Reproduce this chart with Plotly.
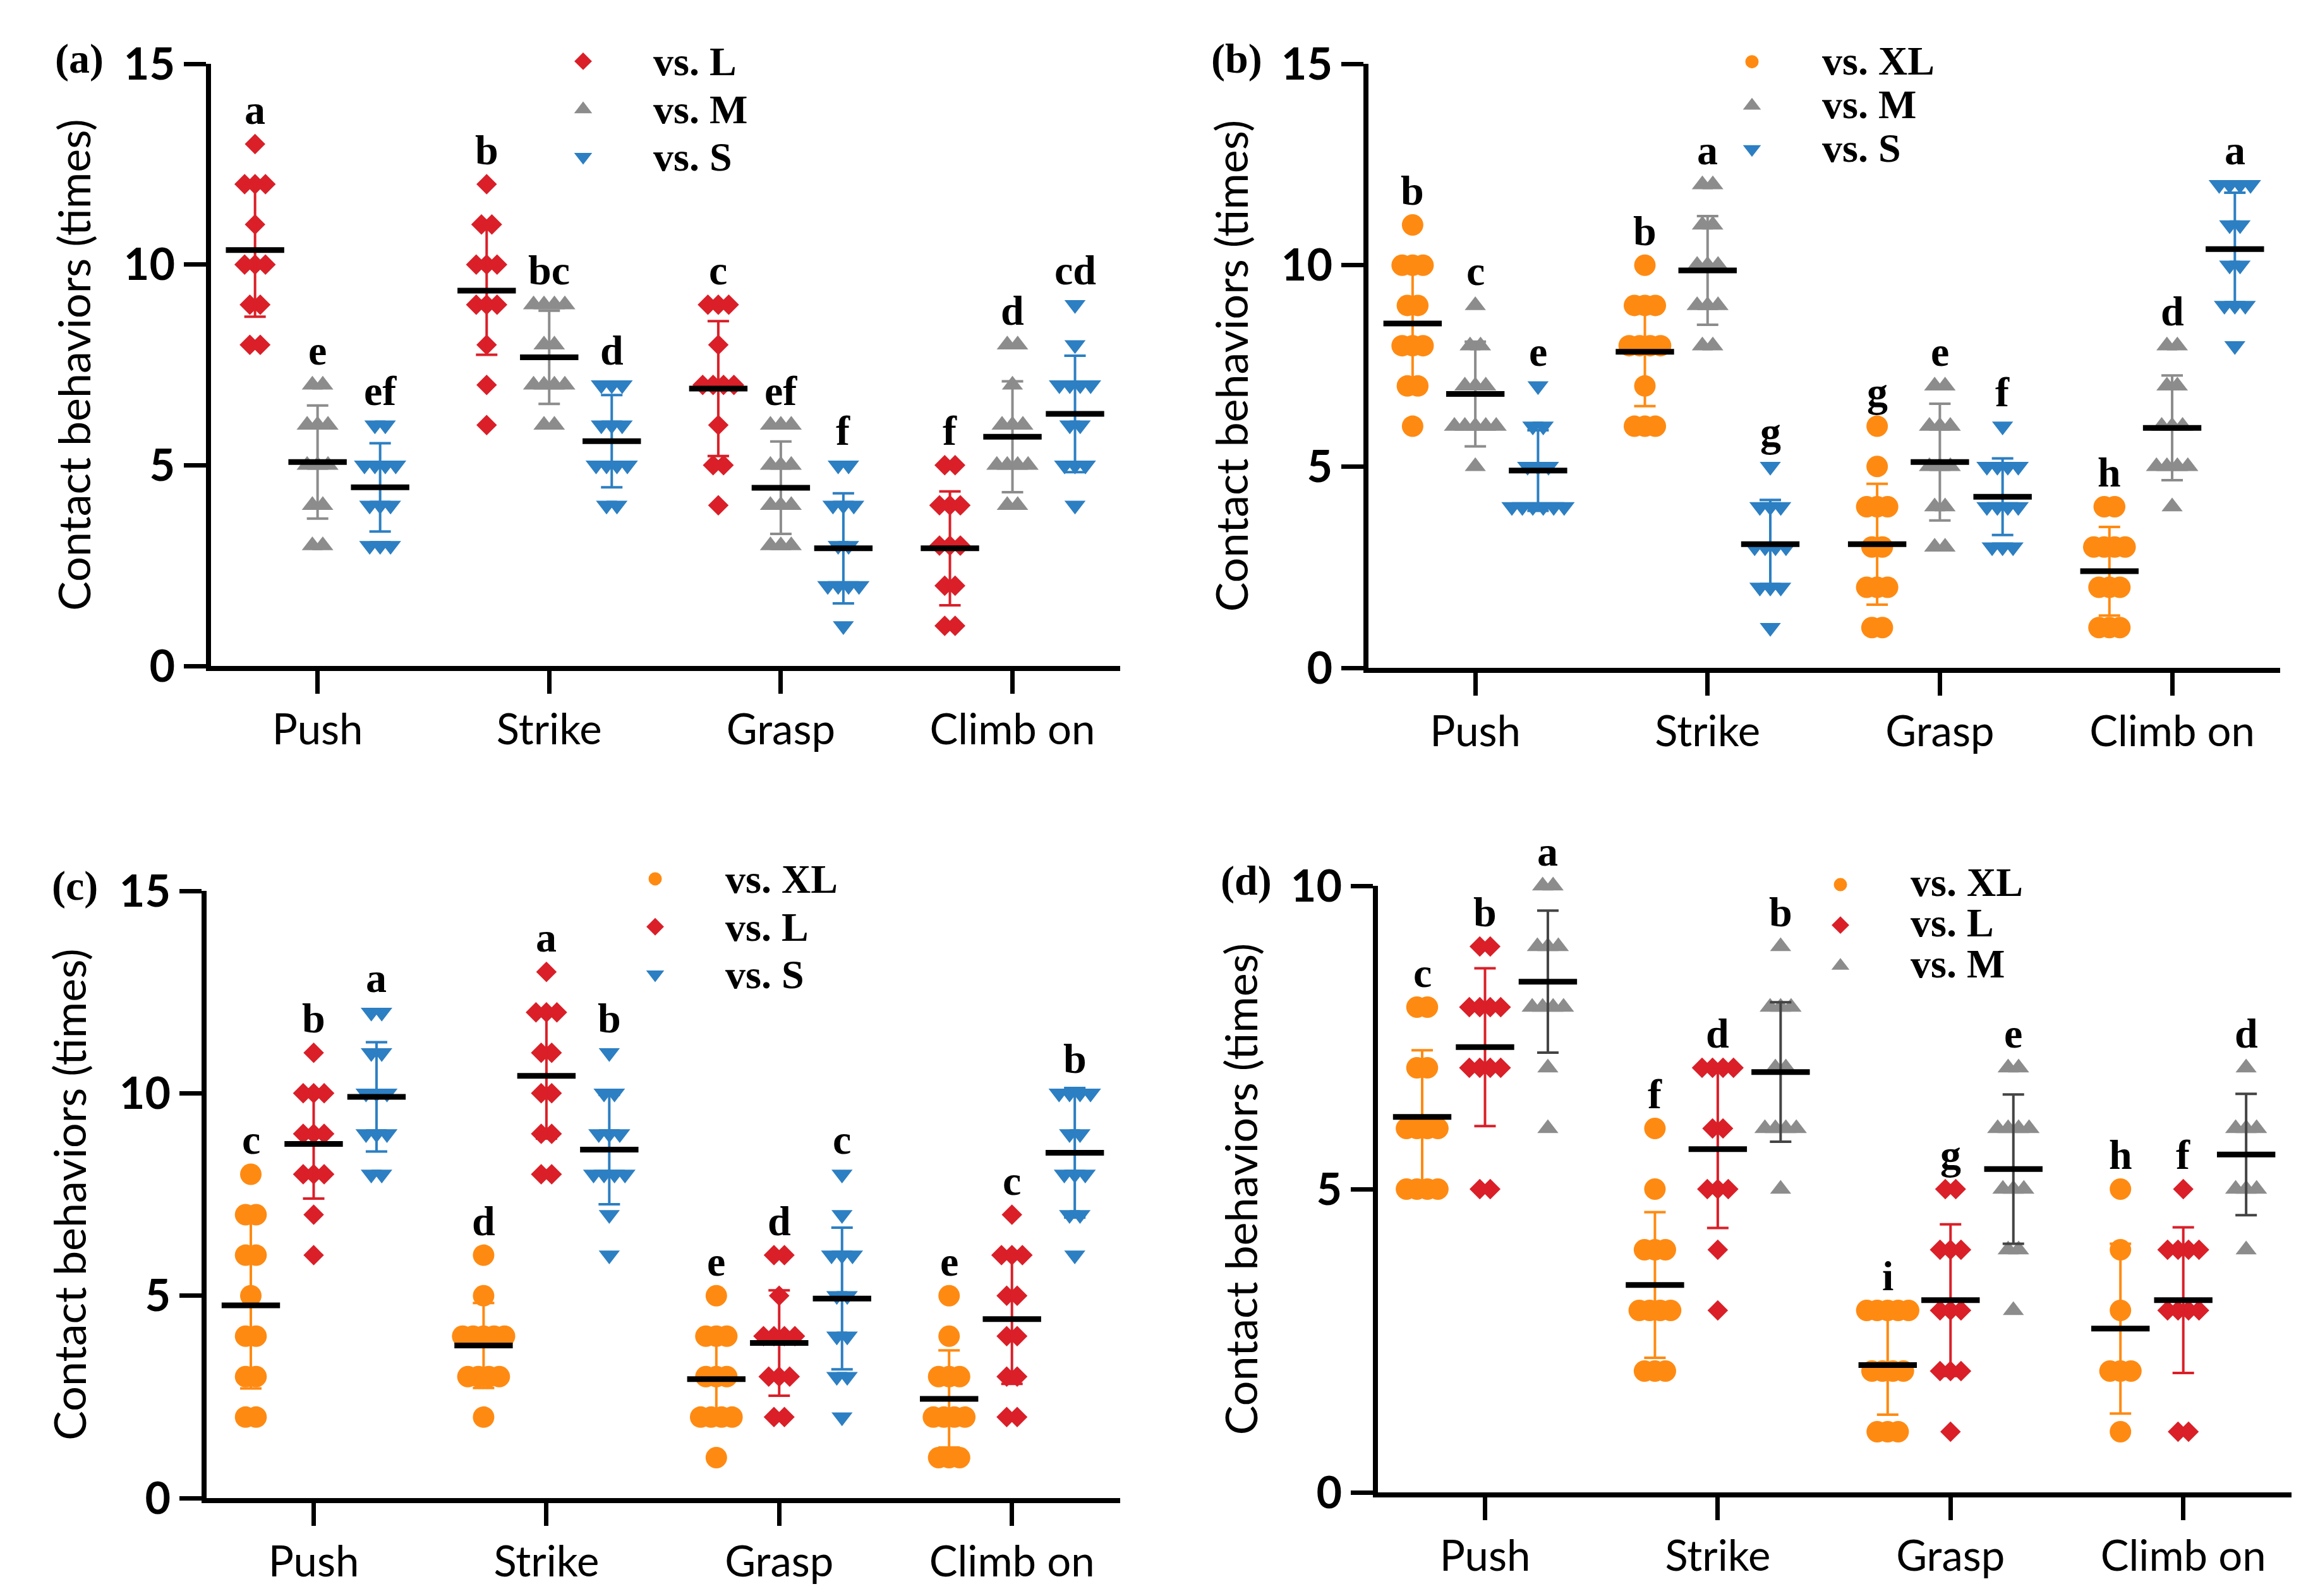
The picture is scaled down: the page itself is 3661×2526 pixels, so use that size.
import plotly.graph_objects as go
from plotly.subplots import make_subplots

categories = ["Push", "Strike", "Grasp", "Climb on"]
y_title = "Contact behaviors (times)"

# values per category, in order Push, Strike, Grasp, Climb on
# (a)
a_L = [[13, 12, 12, 12, 11, 10, 10, 10, 9, 9, 8, 8],
       [12, 11, 11, 10, 10, 10, 9, 9, 9, 8, 7, 6],
       [9, 9, 9, 8, 7, 7, 7, 7, 6, 5, 5, 4],
       [5, 5, 4, 4, 4, 3, 3, 3, 2, 2, 1, 1]]
a_M = [[7, 7, 6, 6, 6, 5, 5, 5, 4, 4, 3, 3],
       [9, 9, 9, 9, 8, 8, 7, 7, 7, 7, 6, 6],
       [6, 6, 6, 5, 5, 5, 4, 4, 4, 3, 3, 3],
       [8, 8, 7, 6, 6, 6, 5, 5, 5, 5, 4, 4]]
a_S = [[6, 6, 5, 5, 5, 5, 4, 4, 4, 3, 3, 3],
       [7, 7, 7, 6, 6, 6, 5, 5, 5, 5, 4, 4],
       [5, 5, 4, 4, 4, 3, 3, 2, 2, 2, 2, 1],
       [9, 8, 7, 7, 7, 7, 6, 6, 5, 5, 5, 4]]
a_L_mean = [10.36, 9.35, 6.91, 2.93]
a_L_sd = [1.66, 1.6, 1.68, 1.42]
a_M_mean = [5.08, 7.69, 4.44, 5.71]
a_M_sd = [1.41, 1.16, 1.15, 1.38]
a_S_mean = [4.45, 5.6, 2.93, 6.28]
a_S_sd = [1.1, 1.15, 1.37, 1.45]
a_letters = [["a", "e", "ef"], ["b", "bc", "d"], ["c", "ef", "f"], ["f", "d", "cd"]]

# (b)
b_XL = [[11, 10, 10, 10, 9, 9, 8, 8, 8, 7, 7, 6],
        [10, 9, 9, 9, 8, 8, 8, 8, 7, 6, 6, 6],
        [6, 5, 4, 4, 4, 3, 3, 2, 2, 2, 1, 1],
        [4, 4, 3, 3, 3, 3, 2, 2, 2, 1, 1, 1]]
b_M = [[9, 8, 8, 7, 7, 7, 6, 6, 6, 6, 6, 5],
       [12, 12, 11, 11, 10, 10, 10, 9, 9, 9, 8, 8],
       [7, 7, 6, 6, 6, 5, 5, 5, 4, 4, 3, 3],
       [8, 8, 7, 7, 6, 6, 6, 5, 5, 5, 5, 4]]
b_S = [[7, 6, 6, 5, 5, 5, 4, 4, 4, 4, 4, 4],
       [5, 4, 4, 4, 3, 3, 3, 3, 2, 2, 2, 1],
       [6, 5, 5, 5, 5, 4, 4, 4, 4, 3, 3, 3],
       [12, 12, 12, 12, 11, 11, 10, 10, 9, 9, 9, 8]]
b_XL_mean = [8.55, 7.85, 3.07, 2.4]
b_XL_sd = [1.45, 1.35, 1.5, 1.1]
b_M_mean = [6.8, 9.87, 5.11, 5.96]
b_M_sd = [1.3, 1.35, 1.45, 1.3]
b_S_mean = [4.9, 3.07, 4.25, 10.4]
b_S_sd = [1.0, 1.1, 0.95, 1.4]
b_letters = [["b", "c", "e"], ["b", "a", "g"], ["g", "e", "f"], ["h", "d", "a"]]

# (c)
c_XL = [[8, 7, 7, 6, 6, 5, 4, 4, 3, 3, 2, 2],
        [6, 5, 4, 4, 4, 4, 4, 3, 3, 3, 3, 2],
        [5, 4, 4, 4, 3, 3, 3, 2, 2, 2, 2, 1],
        [5, 4, 3, 3, 3, 2, 2, 2, 2, 1, 1, 1]]
c_L = [[11, 10, 10, 10, 9, 9, 9, 8, 8, 8, 7, 6],
       [13, 12, 12, 12, 11, 11, 10, 10, 9, 9, 8, 8],
       [6, 6, 5, 4, 4, 4, 4, 3, 3, 3, 2, 2],
       [7, 6, 6, 6, 5, 5, 4, 4, 3, 3, 2, 2]]
c_S = [[12, 12, 11, 11, 10, 10, 10, 9, 9, 9, 8, 8],
       [11, 10, 10, 9, 9, 9, 8, 8, 8, 8, 7, 6],
       [8, 7, 6, 6, 6, 5, 5, 4, 4, 3, 3, 2],
       [10, 10, 10, 10, 9, 9, 8, 8, 8, 7, 7, 6]]
c_XL_mean = [4.76, 3.77, 2.94, 2.45]
c_XL_sd = [2.05, 1.05, 1.05, 1.2]
c_L_mean = [8.75, 10.43, 3.83, 4.42]
c_L_sd = [1.35, 1.55, 1.3, 1.6]
c_S_mean = [9.91, 8.61, 4.93, 8.53]
c_S_sd = [1.35, 1.35, 1.75, 1.6]
c_letters = [["c", "b", "a"], ["d", "a", "b"], ["e", "d", "c"], ["e", "c", "b"]]

# (d)
d_XL = [[8, 8, 7, 7, 6, 6, 6, 6, 5, 5, 5, 5],
        [6, 5, 4, 4, 4, 3, 3, 3, 3, 2, 2, 2],
        [3, 3, 3, 3, 3, 2, 2, 2, 2, 1, 1, 1],
        [5, 4, 3, 2, 2, 2, 1]]
d_L = [[9, 9, 8, 8, 8, 8, 7, 7, 7, 7, 5, 5],
       [7, 7, 7, 7, 6, 6, 5, 5, 5, 4, 3],
       [5, 5, 4, 4, 4, 3, 3, 3, 2, 2, 2, 1],
       [5, 4, 4, 4, 4, 3, 3, 3, 3, 1, 1]]
d_M = [[10, 10, 9, 9, 9, 8, 8, 8, 8, 7, 6],
       [9, 8, 8, 8, 7, 7, 6, 6, 6, 6, 5],
       [7, 7, 6, 6, 6, 6, 5, 5, 5, 4, 4, 3],
       [7, 6, 6, 6, 5, 5, 5, 4]]
d_XL_mean = [6.19, 3.42, 2.1, 2.7]
d_XL_sd = [1.1, 1.2, 0.82, 1.4]
d_L_mean = [7.34, 5.66, 3.17, 3.17]
d_L_sd = [1.3, 1.3, 1.25, 1.2]
d_M_mean = [8.42, 6.93, 5.33, 5.57]
d_M_sd = [1.17, 1.15, 1.23, 1.0]
d_letters = [["c", "b", "a"], ["f", "d", "b"], ["i", "g", "e"], ["h", "f", "d"]]

RED = "#DA1F28"
GRAY = "#8C8C8C"
BLUE = "#2C7FC2"
ORANGE = "#FF8A12"
STYLE = {
    "vs. XL": dict(symbol="circle", color=ORANGE, size=34),
    "vs. L": dict(symbol="diamond", color=RED, size=25),
    "vs. M": dict(symbol="triangle-up", color=GRAY, size=29),
    "vs. S": dict(symbol="triangle-down", color=BLUE, size=29),
}

W, H = 3661, 2526
SANS = "Lato"
SERIF = "Liberation Serif"
OFFSET = 0.27   # group offset within a category
STEP = 0.045    # horizontal spread of equal values
LEGEND_TEXT = 64  # legend label size; legend.font.size only sets the row pitch

# label, row, col, ymax, series, letters, pixel box (x0, x1, ytop, ybottom), legend (x, y, row font size)
panels = [
    ("(a)", 1, 1, 15,
     [("vs. L", a_L, a_L_mean, a_L_sd), ("vs. M", a_M, a_M_mean, a_M_sd), ("vs. S", a_S, a_S_mean, a_S_sd)],
     a_letters, (326, 1765, 93, 1046), (804, 46, 56)),
    ("(b)", 1, 2, 15,
     [("vs. XL", b_XL, b_XL_mean, b_XL_sd), ("vs. M", b_M, b_M_mean, b_M_sd), ("vs. S", b_S, b_S_mean, b_S_sd)],
     b_letters, (2158, 3601, 93, 1049), (2654, 50, 51)),
    ("(c)", 2, 1, 15,
     [("vs. XL", c_XL, c_XL_mean, c_XL_sd), ("vs. L", c_L, c_L_mean, c_L_sd), ("vs. S", c_S, c_S_mean, c_S_sd)],
     c_letters, (319, 1765, 1402, 2363), (918, 1340, 56)),
    ("(d)", 2, 2, 10,
     [("vs. XL", d_XL, d_XL_mean, d_XL_sd), ("vs. L", d_L, d_L_mean, d_L_sd), ("vs. M", d_M, d_M_mean, d_M_sd)],
     d_letters, (2173, 3619, 1394, 2354), (2794, 1355, 47)),
]

fig = make_subplots(rows=2, cols=2)

for p, (label, row, col, ymax, series, letters, box, leg) in enumerate(panels):
    legend_id = "legend" if p == 0 else f"legend{p + 1}"
    for j, (name, groups, means, sds) in enumerate(series):
        st = STYLE[name]
        off = (j - 1) * OFFSET
        xs, ys = [], []
        for i, vals in enumerate(groups):
            for v in sorted(set(vals), reverse=True):
                n = vals.count(v)
                for k in range(n):
                    xs.append(i + off + (k - (n - 1) / 2) * STEP)
                    ys.append(v)
        fig.add_trace(go.Scatter(
            x=xs, y=ys, mode="markers", name=name, showlegend=False, cliponaxis=False,
            marker=dict(symbol=st["symbol"], color=st["color"], size=st["size"], line=dict(width=0)),
        ), row=row, col=col)
        centers = [i + off for i in range(len(categories))]
        err_color = "#444444" if (name == "vs. M" and ymax == 10) else st["color"]
        fig.add_trace(go.Scatter(
            x=centers, y=means, mode="markers", showlegend=False, cliponaxis=False,
            marker=dict(size=1, color="rgba(0,0,0,0)"),
            error_y=dict(type="data", array=sds, visible=True, color=err_color, thickness=4, width=17),
        ), row=row, col=col)
        fig.add_trace(go.Scatter(
            x=centers, y=means, mode="markers", showlegend=False, cliponaxis=False,
            marker=dict(symbol="line-ew", size=66, line=dict(width=9, color="black")),
        ), row=row, col=col)
        # legend entry (legend symbols are capped in size, so a stroke enlarges them)
        fig.add_trace(go.Scatter(
            x=[None], y=[None], mode="markers", legend=legend_id,
            name=f"<span style='font-size:{LEGEND_TEXT}px'>{name}</span>",
            marker=dict(symbol=st["symbol"], color=st["color"], size=16,
                        line=dict(width=5, color=st["color"])),
        ), row=row, col=col)
        for i, vals in enumerate(groups):
            fig.add_annotation(
                x=i + off, y=max(vals), text=letters[i][j], showarrow=False,
                yanchor="bottom", yshift=16,
                font=dict(family=SERIF, size=66, color="black", weight="bold"),
                row=row, col=col,
            )

    x0, x1, yt, yb = box
    fig.update_xaxes(
        domain=[x0 / W, x1 / W], range=[-0.46, 3.465], automargin=False,
        tickmode="array", tickvals=list(range(len(categories))), ticktext=categories,
        showline=True, linecolor="black", linewidth=8, ticks="outside", ticklen=36,
        tickwidth=7, tickcolor="black", showgrid=False, zeroline=False,
        tickfont=dict(family=SANS, size=67, color="black"), row=row, col=col,
    )
    fig.update_yaxes(
        domain=[1 - yb / H, 1 - yt / H], range=[0, ymax], dtick=5, automargin=False,
        showline=True, linecolor="black", linewidth=8, ticks="outside", ticklen=35,
        tickwidth=7, tickcolor="black", showgrid=False, zeroline=False,
        tickfont=dict(family=SANS, size=70, color="black", weight="bold"),
        title=dict(text=y_title, font=dict(family=SANS, size=70, color="black"), standoff=32),
        row=row, col=col,
    )
    fig.add_annotation(
        x=(x0 - 209) / W, y=1 - (yt - 8) / H, xref="paper", yref="paper", text=label,
        showarrow=False, xanchor="center", yanchor="middle",
        font=dict(family=SERIF, size=66, color="black", weight="bold"),
    )
    fig.update_layout({legend_id: dict(
        x=leg[0] / W, y=1 - leg[1] / H, xanchor="left", yanchor="top",
        bgcolor="rgba(0,0,0,0)", borderwidth=0, itemwidth=212,
        font=dict(family=SERIF, size=leg[2], color="black", weight="bold"),
    )})

fig.update_layout(
    width=W, height=H, margin=dict(l=0, r=0, t=0, b=0, autoexpand=False),
    paper_bgcolor="white", plot_bgcolor="white", showlegend=True,
)

fig.write_html("out.html")
